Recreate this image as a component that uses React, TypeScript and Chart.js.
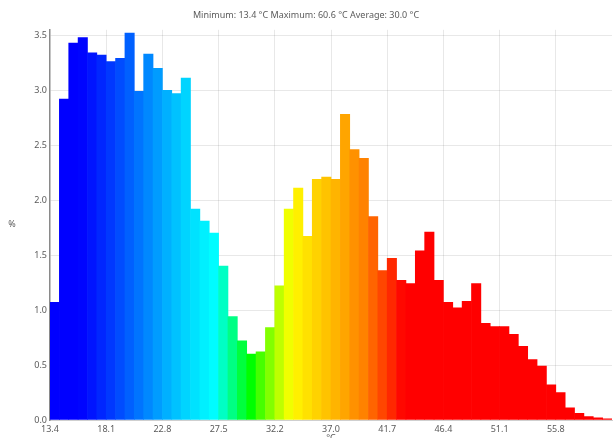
import React, { useEffect, useRef } from 'react';
import { Chart, registerables } from 'chart.js';

Chart.register(...registerables);

// Histogram values (%) per temperature bin, 60 bins from 13.4 °C to 60.6 °C
const percentValues: number[] = [
  1.07, 2.92, 3.43, 3.48, 3.34, 3.32, 3.26, 3.29, 3.52, 2.99,
  3.33, 3.2, 3.0, 2.97, 3.11, 1.92, 1.81, 1.7, 1.4, 0.94,
  0.72, 0.6, 0.62, 0.84, 1.22, 1.92, 2.11, 1.67, 2.19, 2.21,
  2.19, 2.78, 2.46, 2.38, 1.85, 1.36, 1.47, 1.27, 1.24, 1.54,
  1.71, 1.27, 1.07, 1.02, 1.08, 1.24, 0.88, 0.85, 0.85, 0.78,
  0.67, 0.55, 0.49, 0.32, 0.25, 0.11, 0.06, 0.03, 0.02, 0.01,
];

const binLabels: string[] = percentValues.map((_, i) => `bin ${i + 1}`);

const xTickLabels: string[] = ['13.4', '18.1', '22.8', '27.5', '32.2', '37.0', '41.7', '46.4', '51.1', '55.8'];
const binsPerTick = 6;

const yTickValues: number[] = [0, 0.5, 1.0, 1.5, 2.0, 2.5, 3.0, 3.5];

const titleText = 'Minimum: 13.4 °C Maximum: 60.6 °C Average: 30.0 °C';
const xAxisTitle = '°C';
const yAxisTitle = '%';

const barColors: string[] = [
  '#0000FF', '#0000FF', '#0000FF', '#0004FF', '#0014FF', '#0026FF', '#0038FF', '#004CFF', '#0060FF', '#0074FF',
  '#0088FF', '#009CFF', '#00B0FF', '#00C2FF', '#00D4FF', '#00E2FF', '#00F0FF', '#00FCFF', '#00FFC4', '#00FF84',
  '#00FF3E', '#00FF00', '#46FF00', '#82FF00', '#BEFF00', '#F0FF00', '#FFF000', '#FFE100', '#FFD200', '#FFC300',
  '#FFB400', '#FFA500', '#FF9100', '#FF8200', '#FF6400', '#FF4600', '#FF2800', '#FF0800', '#FF0000', '#FF0000',
  '#FF0000', '#FF0000', '#FF0000', '#FF0000', '#FF0000', '#FF0000', '#FF0000', '#FF0000', '#FF0000', '#FF0000',
  '#FF0000', '#FF0000', '#FF0000', '#FF0000', '#FF0000', '#FF0000', '#FF0000', '#FF0000', '#FF0000', '#FF0000',
];

const FONT_FAMILY = '"Noto Sans", "Open Sans", "DejaVu Sans", sans-serif';
const TEXT_COLOR = '#5a5a5a';
const GRID_COLOR = 'rgba(0,0,0,0.09)';

const axisTitlesPlugin = {
  id: 'axisTitles',
  afterDraw(chart: any) {
    const { ctx, chartArea } = chart;
    ctx.save();
    ctx.fillStyle = TEXT_COLOR;
    ctx.font = `9px ${FONT_FAMILY}`;
    ctx.textAlign = 'center';
    ctx.textBaseline = 'middle';
    ctx.fillText(yAxisTitle, 12, (chartArea.top + chartArea.bottom) / 2);
    ctx.textBaseline = 'top';
    ctx.fillText(xAxisTitle, (chartArea.left + chartArea.right) / 2, chartArea.bottom + 14);
    ctx.restore();
  },
};

export default function App() {
  const canvasRef = useRef<HTMLCanvasElement | null>(null);

  useEffect(() => {
    document.body.style.margin = '0';
    const canvas = canvasRef.current;
    if (!canvas) return;
    const tickFont = { family: FONT_FAMILY, size: 9 };
    const chart = new Chart(canvas, {
      type: 'bar',
      data: {
        labels: binLabels,
        datasets: [
          {
            data: percentValues,
            backgroundColor: barColors,
            borderWidth: 0,
            barPercentage: 1,
            categoryPercentage: 1,
          },
        ],
      },
      options: {
        responsive: false,
        animation: false,
        devicePixelRatio: 1,
        layout: { padding: { left: 0, right: 1, top: 0, bottom: 0 } },
        plugins: {
          legend: { display: false },
          tooltip: { enabled: false },
          title: {
            display: true,
            text: titleText,
            color: TEXT_COLOR,
            font: { family: FONT_FAMILY, size: 9, weight: 'normal' },
            padding: { top: 10, bottom: 9 },
          },
        },
        scales: {
          x: {
            type: 'category',
            offset: true,
            grid: {
              offset: true,
              drawTicks: false,
              color: (ctx: any) =>
                ctx.index % binsPerTick === 0 && ctx.index > 0 && ctx.index < percentValues.length
                  ? GRID_COLOR
                  : 'rgba(0,0,0,0)',
            },
            border: { color: '#cfcfcf', width: 1 },
            ticks: {
              autoSkip: false,
              maxRotation: 0,
              minRotation: 0,
              padding: 4,
              labelOffset: -4.68,
              color: TEXT_COLOR,
              font: tickFont,
              callback: (_v: any, i: number) =>
                i % binsPerTick === 0 ? xTickLabels[i / binsPerTick] ?? '' : '',
            },
            afterFit: (s: any) => {
              s.height = 18;
            },
          },
          y: {
            min: 0,
            max: 3.55,
            afterBuildTicks: (s: any) => {
              s.ticks = yTickValues.map((v) => ({ value: v }));
            },
            grid: { color: GRID_COLOR, drawTicks: false },
            border: { color: '#8a8a8a', width: 1.5 },
            ticks: {
              padding: 3,
              color: TEXT_COLOR,
              font: tickFont,
              callback: (v: any) => Number(v).toFixed(1),
            },
            afterFit: (s: any) => {
              s.width = 50;
            },
          },
        },
      },
      plugins: [axisTitlesPlugin],
    });
    return () => chart.destroy();
  }, []);

  return (
    <div style={{ width: 613, height: 438, overflow: 'hidden' }}>
      <canvas ref={canvasRef} width={613} height={438} style={{ display: 'block' }} />
    </div>
  );
}
